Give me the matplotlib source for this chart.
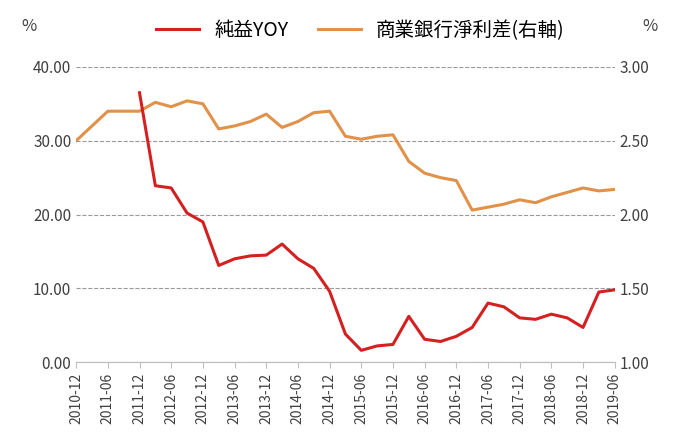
import matplotlib.pyplot as plt
from matplotlib import font_manager
import pandas as pd

# pick whatever CJK family is actually registered
names = {f.name for f in font_manager.fontManager.ttflist}
cjk = [n for n in ['Noto Sans CJK TC', 'Noto Sans CJK JP', 'Noto Sans CJK SC',
                   'Noto Sans CJK KR'] if n in names]
cjk += sorted(n for n in names if 'CJK' in n and n not in cjk)
plt.rcParams['font.family'] = cjk + ['DejaVu Sans']

quarters = pd.period_range('2010Q4', '2019Q2', freq='Q')
labels = [f"{p.year}-{p.quarter * 3:02d}" for p in quarters]

nim = [2.50, 2.60, 2.70, 2.70, 2.70, 2.76, 2.73, 2.77, 2.75, 2.58, 2.60, 2.63,
       2.68, 2.59, 2.63, 2.69, 2.70, 2.53, 2.51, 2.53, 2.54, 2.36, 2.28, 2.25,
       2.23, 2.03, 2.05, 2.07, 2.10, 2.08, 2.12, 2.15, 2.18, 2.16, 2.17]
yoy = [None, None, None, None,
       36.5, 23.9, 23.6, 20.2, 19.0, 13.1, 14.0, 14.4, 14.5, 16.0, 14.0, 12.7,
       9.6, 3.8, 1.6, 2.2, 2.4, 6.2, 3.1, 2.8, 3.5, 4.7, 8.0, 7.5, 6.0, 5.8,
       6.5, 6.0, 4.7, 9.5, 9.8]

x = list(range(len(labels)))
yoy_x = [i for i, v in zip(x, yoy) if v is not None]
yoy_v = [v for v in yoy if v is not None]

fig = plt.figure(figsize=(6.8, 4.46), dpi=100)
ax = fig.add_axes([0.112, 0.188, 0.792, 0.662])
ax2 = ax.twinx()

l1, = ax.plot(yoy_x, yoy_v, color='#d42020', lw=2.2, label='純益YOY', zorder=3)
l2, = ax2.plot(x, nim, color='#e0914a', lw=2.2, label='商業銀行淨利差(右軸)')
ax.set_zorder(ax2.get_zorder() + 1)
ax.patch.set_visible(False)

ax.set_ylim(0, 40)
ax2.set_ylim(1, 3)
ax.set_yticks([0, 10, 20, 30, 40])
ax.set_yticklabels([f"{v:.2f}" for v in [0, 10, 20, 30, 40]])
ax2.set_yticks([1.0, 1.5, 2.0, 2.5, 3.0])
ax2.set_yticklabels([f"{v:.2f}" for v in [1.0, 1.5, 2.0, 2.5, 3.0]])
ax.set_xlim(0, len(x) - 1)
ax.set_xticks(x[::2])
ax.set_xticklabels(labels[::2], rotation=90, fontsize=10, color='#404040')
ax.grid(axis='y', ls='--', color='#999999', lw=0.8)

for a in (ax, ax2):
    for s in ('top', 'left', 'right'):
        a.spines[s].set_visible(False)
    a.spines['bottom'].set_color('#bfbfbf')
    a.tick_params(axis='y', length=0, labelsize=11, colors='#404040')
ax.tick_params(axis='x', length=4, color='#bfbfbf')

fig.text(0.032, 0.93, '%', fontsize=12, color='#404040')
fig.text(0.945, 0.93, '%', fontsize=12, color='#404040')
fig.legend(handles=[l1, l2], loc='upper center', bbox_to_anchor=(0.53, 0.995),
           ncol=2, frameon=False, fontsize=14, handlelength=2.2, columnspacing=1.5)

fig.savefig('out.png', dpi=100)
